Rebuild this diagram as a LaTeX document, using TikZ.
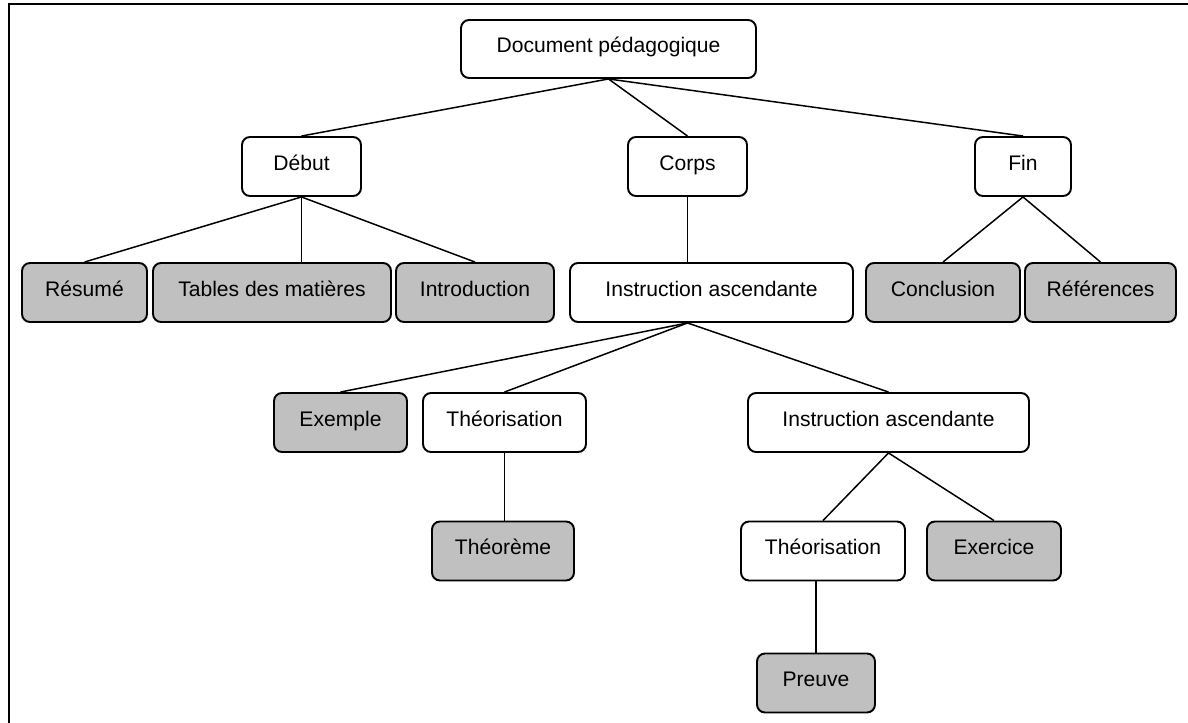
\documentclass[tikz,border=0pt]{standalone}
\usepackage{fontspec}
\setmainfont{Liberation Sans}
\usepackage{xcolor}
\usepackage{tikz}

\definecolor{boxgrey}{RGB}{192,192,192}

\begin{document}
\begin{tikzpicture}[x=0.02cm,y=-0.02cm]
\tikzstyle{box} = [draw, line width=1.1pt, rounded corners=0.16cm, minimum height=1.18cm, inner sep=0pt, font=\fontsize{12}{14}\selectfont, text height=0.75em, text depth=0.35em, fill=white]
\tikzstyle{grey box} = [box, fill=boxgrey]
\tikzstyle{link} = [line width=0.85pt]
%
	\useasboundingbox (0,0) rectangle (1188,723);
	\draw[line width=1.1pt] (9,723) -- (9,4) -- (1188,4);
%
	\node[box, minimum width=5.9cm, minimum height=1.16cm] (doc) at (608.5,49) {Document pédagogique};
%
	\node[box, minimum width=2.38cm] (debut) at (301.5,166.5) {Début};
	\node[box, minimum width=2.38cm] (corps) at (687.5,166.5) {Corps};
	\node[box, minimum width=1.92cm] (fin) at (1023,166.5) {Fin};
%
	\node[grey box, minimum width=2.5cm] (resume) at (84.5,292.5) {Résumé};
	\node[grey box, minimum width=4.76cm] (tables) at (272,292.5) {Tables des matières};
	\node[grey box, minimum width=3.16cm] (intro) at (475,292.5) {Introduction};
	\node[box, minimum width=5.66cm] (instrA) at (711.5,292.5) {Instruction ascendante};
	\node[grey box, minimum width=3.08cm] (concl) at (943,292.5) {Conclusion};
	\node[grey box, minimum width=3.02cm] (refs) at (1100.5,292.5) {Références};
%
	\node[grey box, minimum width=2.66cm] (exemple) at (340.5,422.5) {Exemple};
	\node[box, minimum width=3.26cm] (theoA) at (504.5,422.5) {Théorisation};
	\node[box, minimum width=5.62cm] (instrB) at (888.5,422.5) {Instruction ascendante};
%
	\node[grey box, minimum width=2.84cm] (theoreme) at (503,551) {Théorème};
	\node[box, minimum width=3.28cm] (theoB) at (823,551) {Théorisation};
	\node[grey box, minimum width=2.68cm] (exercice) at (994,551) {Exercice};
%
	\node[grey box, minimum width=2.36cm] (preuve) at (816,683) {Preuve};
%
	\coordinate (instrAtop) at (corps.south |- instrA.north);
	\coordinate (instrAbot) at (corps.south |- instrA.south);
	\coordinate (theoBbot) at (preuve.north |- theoB.south);
%
	\draw[link] (doc.south) -- (debut.north);
	\draw[link] (doc.south) -- (corps.north);
	\draw[link] (doc.south) -- (fin.north);
	\draw[link] (debut.south) -- (resume.north);
	\draw[link] (debut.south) -- (debut.south |- tables.north);
	\draw[link] (debut.south) -- (intro.north);
	\draw[link] (corps.south) -- (instrAtop);
	\draw[link] (fin.south) -- (concl.north);
	\draw[link] (fin.south) -- (refs.north);
	\draw[link] (instrAbot) -- (exemple.north);
	\draw[link] (instrAbot) -- (theoA.north);
	\draw[link] (instrAbot) -- (instrB.north);
	\draw[link] (theoA.south) -- (theoA.south |- theoreme.north);
	\draw[link] (instrB.south) -- (theoB.north);
	\draw[link] (instrB.south) -- (exercice.north);
	\draw[link] (theoBbot) -- (preuve.north);
\end{tikzpicture}
\end{document}
